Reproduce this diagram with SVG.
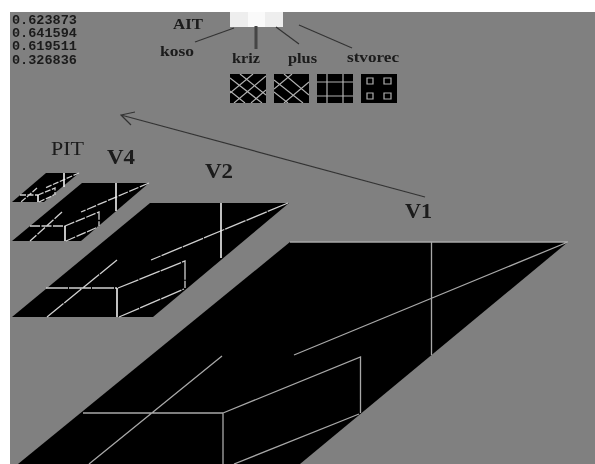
<svg xmlns="http://www.w3.org/2000/svg" width="595" height="464" viewBox="0 0 595 464">
<style>
.p{fill:#000}
.l{fill:none;stroke:#a8a8a8;stroke-width:1.3}
.w{fill:none;stroke:#cfcfcf;stroke-width:1.3}
.v{fill:none;stroke:#f0f0f0;stroke-width:1.6}
.t{font-family:"Liberation Serif",serif;font-weight:bold;fill:#1a1a1a;font-size:14px}
.n{font-family:"Liberation Mono",monospace;font-weight:bold;fill:#1a1a1a;font-size:12.5px}
.c{fill:none;stroke:#333;stroke-width:1.2}
.i{fill:none;stroke:#b0b0b0;stroke-width:1.2}
</style>
<defs>
<filter id="b" x="-5%" y="-5%" width="110%" height="110%"><feGaussianBlur stdDeviation="0.55"/></filter>
<clipPath id="c1"><rect x="230" y="74" width="36" height="29"/></clipPath>
<clipPath id="c2"><rect x="274" y="74" width="35" height="29"/></clipPath>
</defs>
<rect width="595" height="464" fill="#fff"/>
<rect x="10" y="12" width="585" height="452" fill="#808080"/>
<g id="V1">
<polygon class="p" points="290,242 568,242 300,464 18,464"/>
<path class="l" d="M290,242H568M431.500,242V355M568,242L294,355M222,356L89,464M83,413H223M223,413V464M223,413L360.500,357V413M234,464L359,414"/>
</g>
<g id="V2" filter="url(#b)">
<polygon class="p" points="150,203 289,203 153,317 12,317"/>
<path class="w" stroke-dasharray="22 1" d="M288,203L151,260M117,260L47,317M46,288H117M118,288L185,261V288M119,317L184,289"/>
<path class="v" d="M221,203V258M117,288V317"/>
</g>
<g id="V4" filter="url(#b)">
<polygon class="p" points="82,183 149,183 81,241 12,241"/>
<path class="w" stroke-dasharray="10 1.500" d="M149,183L81,212M62,212L30,241M30,226H65M65,226L99,212V226M66,241L98,227"/>
<path class="v" d="M116,183V211M65,226V241"/>
</g>
<g id="PIT" filter="url(#b)">
<polygon class="p" points="46,173 79,173 44,202 12,202"/>
<path class="w" stroke-dasharray="6 1.500" d="M79,173L45,188M37,188L21,202M20,195H38M38,195L55,188V195M39,202L54,195"/>
<path class="v" d="M64,173V187M38,195V202"/>
</g>
<g id="AIT" filter="url(#b)">
<rect x="230" y="12" width="18" height="15" fill="#eee"/>
<rect x="248" y="12" width="17" height="15" fill="#fafafa"/>
<rect x="265" y="12" width="18" height="15" fill="#eee"/>
<text class="t" x="173" y="29" textLength="30" lengthAdjust="spacingAndGlyphs">AIT</text>
</g>
<g id="connectors" filter="url(#b)">
<path class="c" d="M234,28L195,42M276,27L299,44M299,25L352,48"/>
<path class="c" style="stroke-width:3;stroke:#444" d="M256,26V49"/>
<path class="c" d="M425,197L121,115M135,112L121,115L131,125"/>
</g>
<g id="values" filter="url(#b)">
<text class="n" x="12" y="24" textLength="65" lengthAdjust="spacingAndGlyphs">0.623873</text>
<text class="n" x="12" y="37" textLength="65" lengthAdjust="spacingAndGlyphs">0.641594</text>
<text class="n" x="12" y="50" textLength="65" lengthAdjust="spacingAndGlyphs">0.619511</text>
<text class="n" x="12" y="64" textLength="65" lengthAdjust="spacingAndGlyphs">0.326836</text>
</g>
<g id="labels" filter="url(#b)">
<text class="t" x="160" y="56" textLength="34" lengthAdjust="spacingAndGlyphs">koso</text>
<text class="t" x="232" y="63" textLength="28" lengthAdjust="spacingAndGlyphs">kriz</text>
<text class="t" x="288" y="63" textLength="29" lengthAdjust="spacingAndGlyphs">plus</text>
<text class="t" x="347" y="62" textLength="52" lengthAdjust="spacingAndGlyphs">stvorec</text>
<text class="t" style="font-size:19px;font-weight:normal" x="51" y="155" textLength="33" lengthAdjust="spacingAndGlyphs">PIT</text>
<text class="t" style="font-size:20px" x="107" y="164" textLength="28" lengthAdjust="spacingAndGlyphs">V4</text>
<text class="t" style="font-size:20px" x="205" y="178" textLength="28" lengthAdjust="spacingAndGlyphs">V2</text>
<text class="t" style="font-size:20px" x="405" y="218" textLength="27" lengthAdjust="spacingAndGlyphs">V1</text>
</g>
<g id="koso" filter="url(#b)">
<rect x="230" y="74" width="36" height="29"/>
<path class="i" clip-path="url(#c1)" d="M240,74L266,95M230,78L262,103M230,91L245,103M253,74L230,93M266,76L234,103M266,90L251,103"/>
</g>
<g id="kriz" filter="url(#b)">
<rect x="274" y="74" width="35" height="29"/>
<path class="i" clip-path="url(#c2)" d="M284,74L309,95M274,80L303,103M274,92L288,103M292,74L274,89M309,82L284,103"/>
</g>
<g id="plus" filter="url(#b)">
<rect x="317" y="74" width="36" height="29"/>
<path class="i" d="M317,82H353M317,96H353M327,74V103M343,74V103"/>
</g>
<g id="stvorec" filter="url(#b)">
<rect x="361" y="74" width="36" height="29"/>
<path class="i" d="M367,78h6v6h-6zM384,78h7v6h-7zM367,93h6v6h-6zM384,93h7v6h-7z"/>
</g>
</svg>
